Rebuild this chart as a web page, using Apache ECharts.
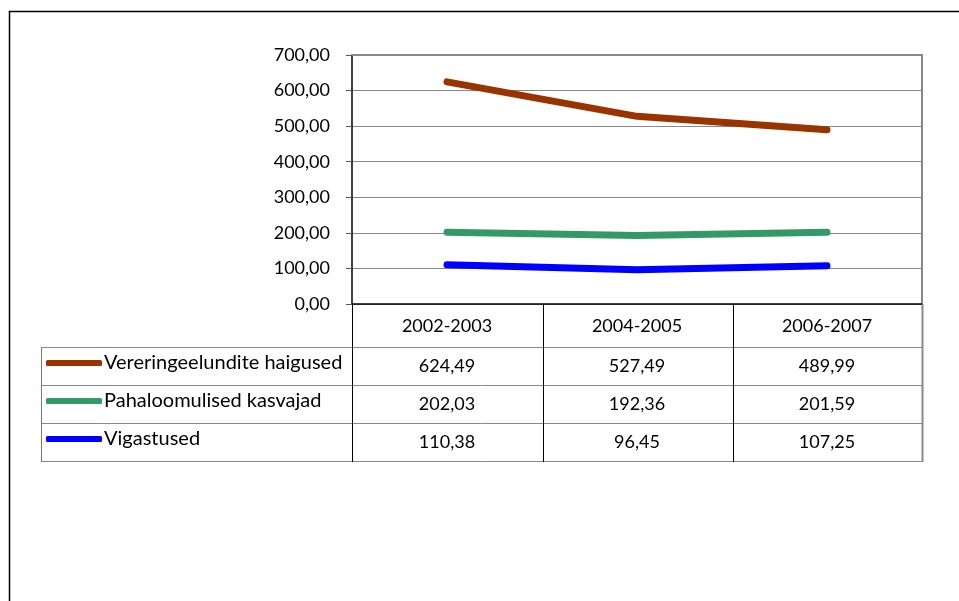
<!DOCTYPE html>
<html><head><meta charset="utf-8">
<script src="https://cdn.jsdelivr.net/npm/echarts@6/dist/echarts.min.js"></script>
<style>html,body{margin:0;padding:0;background:#fff}#c{width:959px;height:601px}</style>
</head><body><div id="c"></div>
<script>
const categories = ['2002-2003', '2004-2005', '2006-2007'];
const seriesNames = ['Vereringeelundite haigused', 'Pahaloomulised kasvajad', 'Vigastused'];
const vereringe = [624.49, 527.49, 489.99];
const kasvajad = [202.03, 192.36, 201.59];
const vigastused = [110.38, 96.45, 107.25];
const colors = ['#993300', '#339966', '#0000FF'];
const yTicks = {min: 0, max: 700, interval: 100};

const allValues = [vereringe, kasvajad, vigastused];
const fmt = v => v.toFixed(2).replace('.', ',');
const FONT = 'Lato';
const FS = 18;

const gridL = 352, gridT = 55, gridR = 922, gridB = 304;
const rowY = [304, 347, 385, 423, 461];
const colX = [352, 543, 733, 922];
const tableLeft = 41;

const chart = echarts.init(document.getElementById('c'));

const legends = seriesNames.map((n, i) => ({
  data: [n],
  left: 46,
  top: (rowY[i + 1] + rowY[i + 2]) / 2 - 13,
  icon: 'roundRect',
  itemWidth: 56,
  itemHeight: 6,
  itemGap: 0,
  selectedMode: false,
  textStyle: {fontFamily: FONT, fontSize: 20, color: '#000', padding: [0, 0, 0, -3]},
  padding: 0
}));

chart.setOption({
  animation: false,
  textStyle: {fontFamily: FONT},
  grid: {left: gridL, top: gridT, width: gridR - gridL, height: gridB - gridT},
  legend: legends,
  xAxis: {
    type: 'category', data: categories, boundaryGap: true,
    axisLine: {show: false}, axisTick: {show: false},
    axisLabel: {fontFamily: FONT, fontSize: FS, color: '#000', margin: 13},
    splitLine: {show: false}
  },
  yAxis: {
    type: 'value', min: yTicks.min, max: yTicks.max, interval: yTicks.interval,
    axisLine: {show: true, lineStyle: {color: '#000', width: 1.5}},
    axisTick: {show: true, inside: false, length: 6, lineStyle: {color: '#555'}},
    axisLabel: {fontFamily: FONT, fontSize: FS, color: '#000', margin: 22, formatter: v => fmt(v)},
    splitLine: {show: true, lineStyle: {color: '#888', width: 1}}
  },
  series: allValues.map((d, i) => ({
    name: seriesNames[i], type: 'line', data: d, symbol: 'none',
    color: colors[i],
    lineStyle: {width: 7, color: colors[i], cap: 'round', join: 'round'}
  }))
});

const g = [];
g.push({type: 'rect', shape: {x: 9.5, y: 11.5, width: 1000, height: 700}, style: {fill: null, stroke: '#000', lineWidth: 1.5}, silent: true, z: 0});
g.push({type: 'polyline', shape: {points: [[gridL, gridT], [gridR, gridT], [gridR, gridB]]}, style: {stroke: '#888', lineWidth: 2, fill: null}, z: 1});
g.push({type: 'line', shape: {x1: gridL, y1: gridB, x2: gridR, y2: gridB}, style: {stroke: '#000', lineWidth: 1.5}, z: 3});
for (let r = 1; r < rowY.length; r++) {
  g.push({type: 'line', shape: {x1: tableLeft, y1: rowY[r] + 0.5, x2: gridR, y2: rowY[r] + 0.5}, style: {stroke: '#888', lineWidth: 1}, z: 1});
}
g.push({type: 'line', shape: {x1: tableLeft + 0.5, y1: rowY[1], x2: tableLeft + 0.5, y2: rowY[4] + 1}, style: {stroke: '#777', lineWidth: 1}, z: 1});
for (const x of colX) {
  g.push({type: 'line', shape: {x1: x + 0.5, y1: gridB, x2: x + 0.5, y2: rowY[4] + 1}, style: {stroke: x === gridR ? '#888' : '#000', lineWidth: x === gridR ? 2 : 1}, z: 2});
}
allValues.forEach((vals, i) => {
  vals.forEach((v, j) => {
    const px = chart.convertToPixel({xAxisIndex: 0}, j);
    g.push({type: 'text', x: px, y: (rowY[i + 1] + rowY[i + 2]) / 2,
      style: {text: fmt(v), font: FS + 'px ' + FONT, fill: '#000', align: 'center', verticalAlign: 'middle'}, z: 5});
  });
});
chart.setOption({graphic: g});
</script></body></html>
